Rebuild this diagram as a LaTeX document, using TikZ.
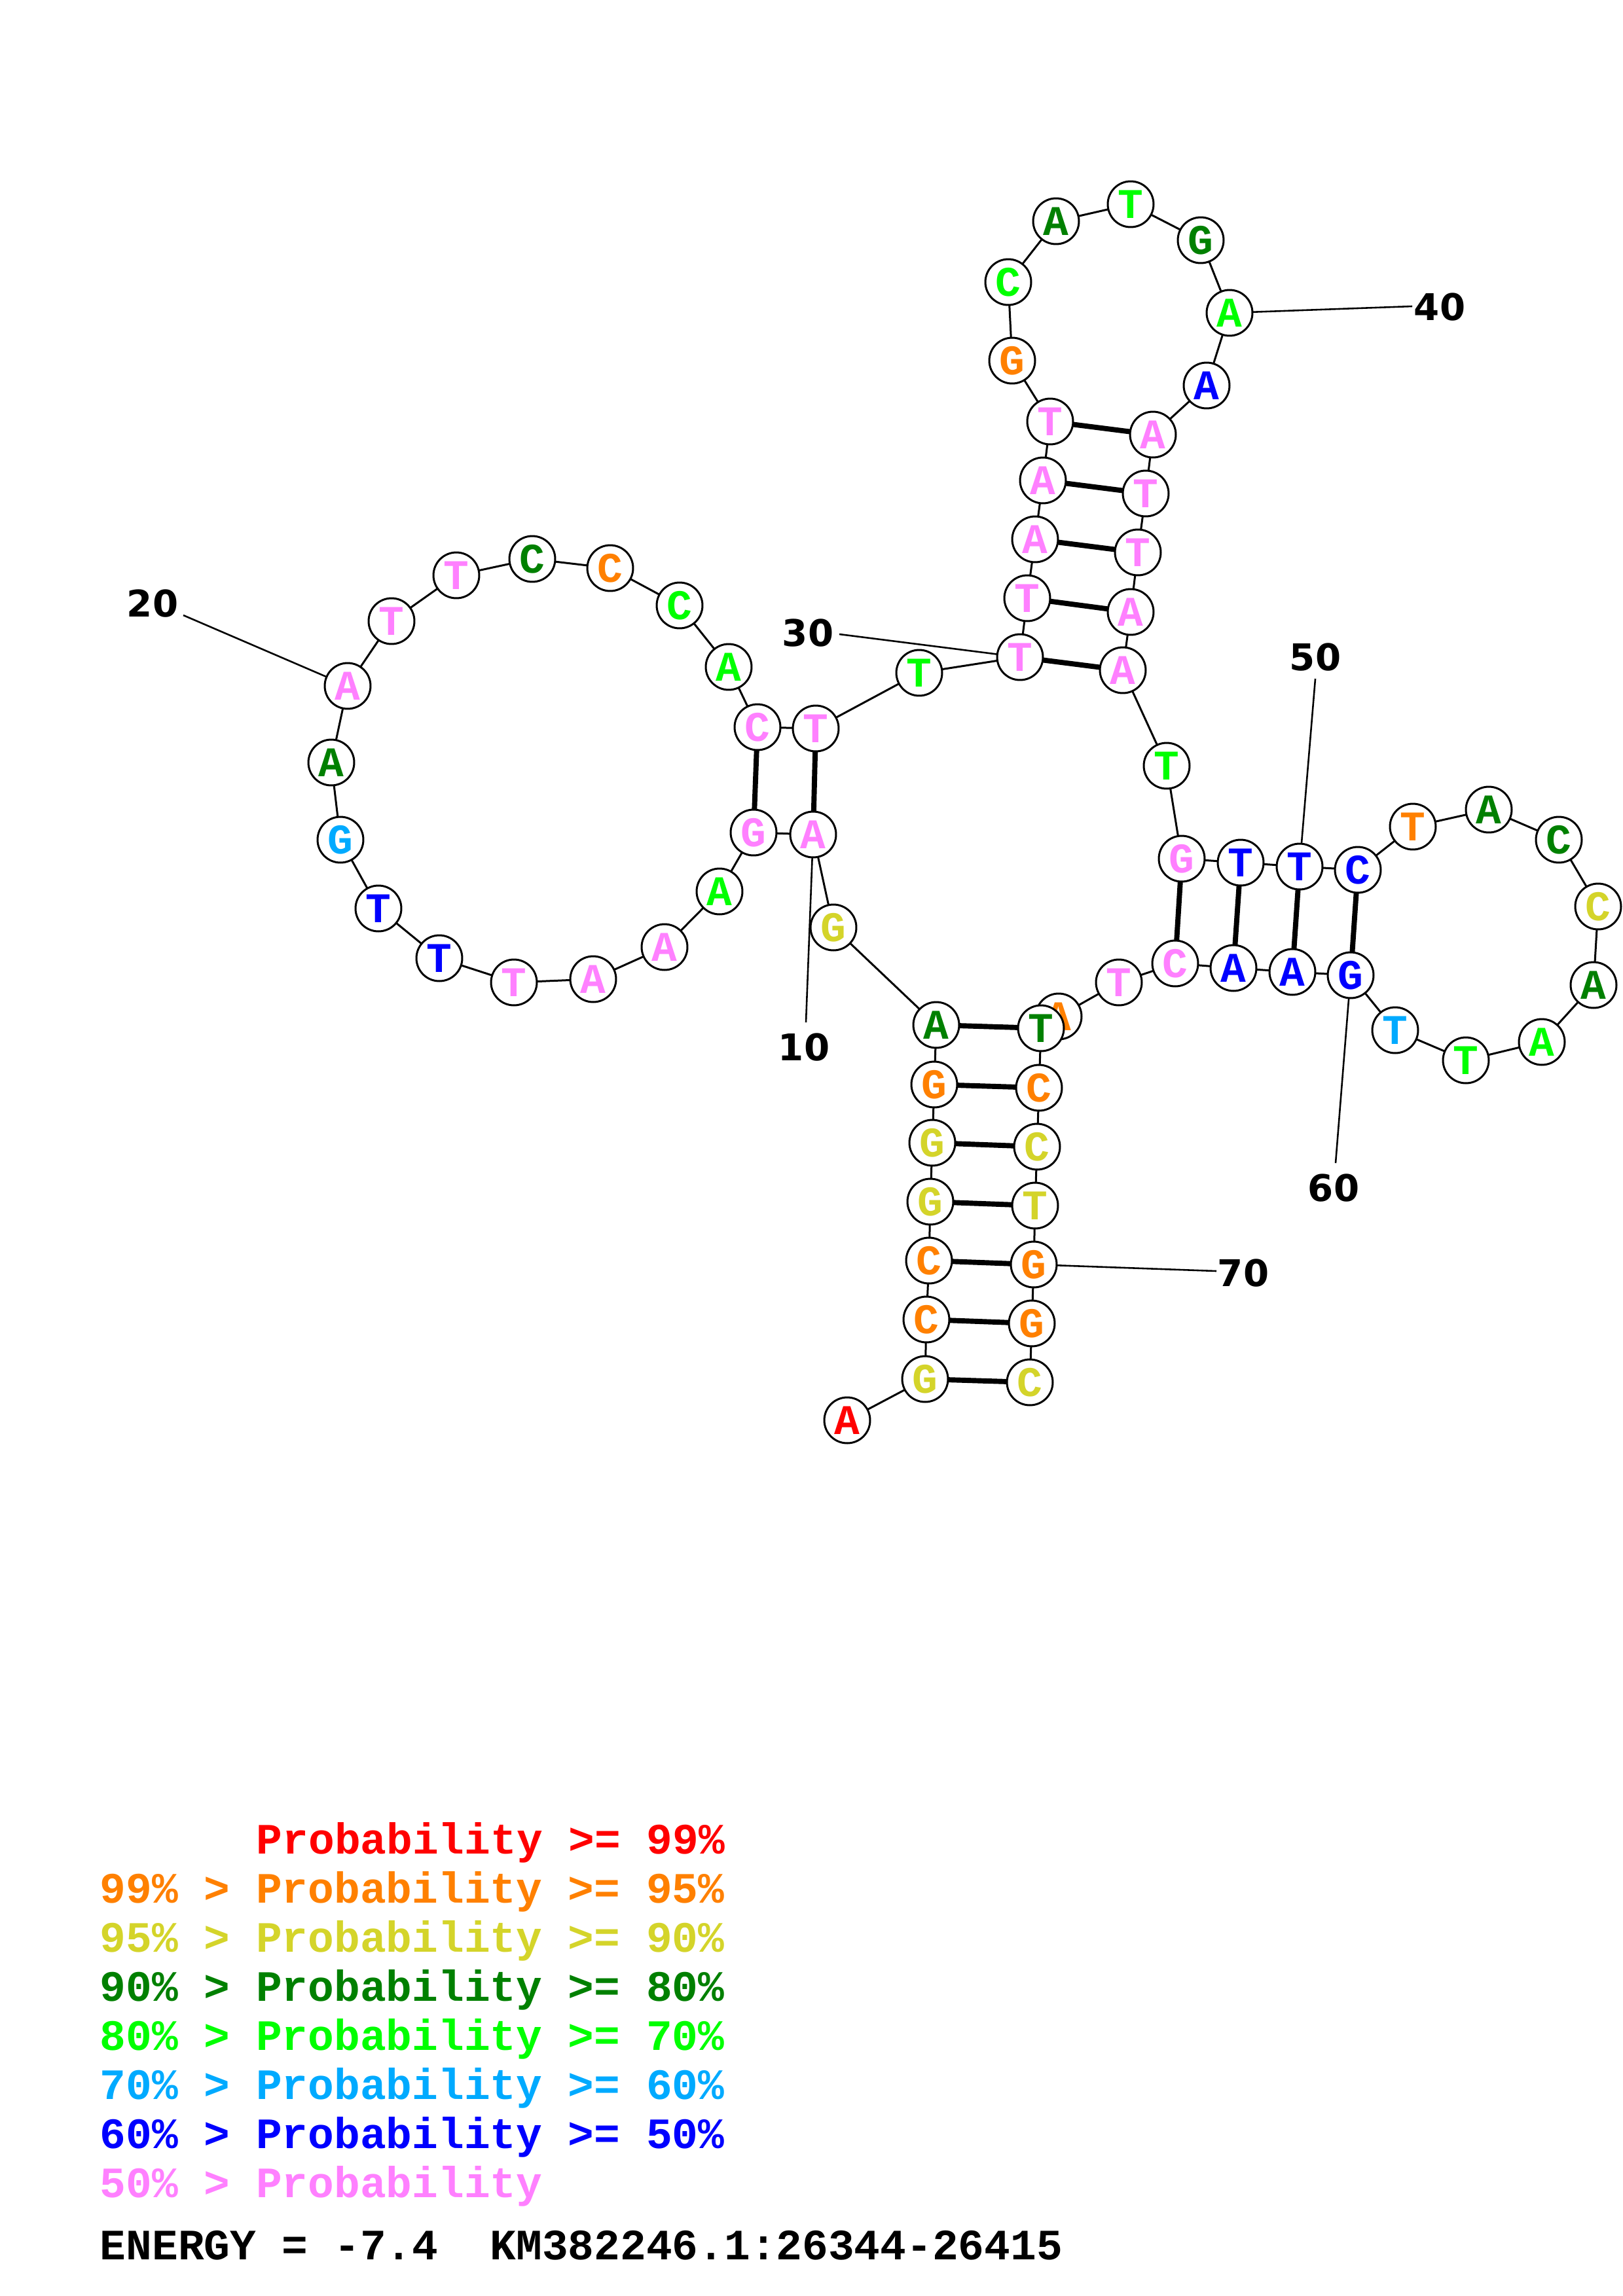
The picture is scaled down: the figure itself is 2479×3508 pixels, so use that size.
\documentclass[tikz,border=0pt]{standalone}
\usepackage{fontspec}
\setmonofont{Liberation Mono}
\newfontfamily\numfont{DejaVu Sans}
\usepackage{xcolor}
\usetikzlibrary{backgrounds}

\definecolor{c99}{RGB}{255,0,0}
\definecolor{c95}{RGB}{255,128,0}
\definecolor{c90}{RGB}{212,212,42}
\definecolor{c80}{RGB}{0,128,0}
\definecolor{c70}{RGB}{0,255,0}
\definecolor{c60}{RGB}{0,170,255}
\definecolor{c50}{RGB}{0,0,255}
\definecolor{clow}{RGB}{255,128,255}

\begin{document}
\begin{tikzpicture}[x=0.240128pt,y=-0.240128pt,
  nt/.style={circle,draw=black,line width=0.72pt,fill=white,inner sep=0pt,
             minimum size=16.8pt,font=\ttfamily\bfseries\fontsize{15.5}{15.5}\selectfont},
  bb/.style={line width=0.72pt},
  bp/.style={line width=1.9pt},
  numline/.style={line width=0.62pt},
  num/.style={font=\numfont\bfseries\fontsize{13.5}{13.5}\selectfont},
  legline/.style={anchor=base west,inner sep=0pt,
                  font=\ttfamily\bfseries\fontsize{15.9}{15.9}\selectfont}]
  \useasboundingbox (0,0) rectangle (2479,3508);

  % bases, 5' to 3'
  \node[nt,text=c99]  (b1)  at (1294,2170) {A};
  \node[nt,text=c90]  (b2)  at (1413,2107) {G};
  \node[nt,text=c95]  (b3)  at (1415,2016) {C};
  \node[nt,text=c95]  (b4)  at (1419,1926) {C};
  \node[nt,text=c90]  (b5)  at (1421,1836) {G};
  \node[nt,text=c90]  (b6)  at (1424,1746) {G};
  \node[nt,text=c95]  (b7)  at (1427,1657) {G};
  \node[nt,text=c80]  (b8)  at (1430,1566) {A};
  \node[nt,text=c90]  (b9)  at (1273,1417) {G};
  \node[nt,text=clow] (b10) at (1242,1275) {A};
  \node[nt,text=clow] (b11) at (1151,1272) {G};
  \node[nt,text=c70]  (b12) at (1099,1362) {A};
  \node[nt,text=clow] (b13) at (1015,1447) {A};
  \node[nt,text=clow] (b14) at (906,1496) {A};
  \node[nt,text=clow] (b15) at (785,1501) {T};
  \node[nt,text=c50]  (b16) at (671,1464) {T};
  \node[nt,text=c50]  (b17) at (578,1388) {T};
  \node[nt,text=c60]  (b18) at (520,1283) {G};
  \node[nt,text=c80]  (b19) at (506,1165) {A};
  \node[nt,text=clow] (b20) at (531,1048) {A};
  \node[nt,text=clow] (b21) at (598,949) {T};
  \node[nt,text=clow] (b22) at (697,879) {T};
  \node[nt,text=c80]  (b23) at (813,854) {C};
  \node[nt,text=c95]  (b24) at (932,868) {C};
  \node[nt,text=c70]  (b25) at (1038,925) {C};
  \node[nt,text=c70]  (b26) at (1113,1019) {A};
  \node[nt,text=clow] (b27) at (1157,1111) {C};
  \node[nt,text=clow] (b28) at (1246,1113) {T};
  \node[nt,text=c70]  (b29) at (1404,1028) {T};
  \node[nt,text=clow] (b30) at (1558,1004) {T};
  \node[nt,text=clow] (b31) at (1569,914) {T};
  \node[nt,text=clow] (b32) at (1581,824) {A};
  \node[nt,text=clow] (b33) at (1593,734) {A};
  \node[nt,text=clow] (b34) at (1604,644) {T};
  \node[nt,text=c95]  (b35) at (1546,551) {G};
  \node[nt,text=c70]  (b36) at (1540,431) {C};
  \node[nt,text=c80]  (b37) at (1613,338) {A};
  \node[nt,text=c70]  (b38) at (1727,312) {T};
  \node[nt,text=c80]  (b39) at (1834,367) {G};
  \node[nt,text=c70]  (b40) at (1878,478) {A};
  \node[nt,text=c50]  (b41) at (1843,589) {A};
  \node[nt,text=clow] (b42) at (1761,664) {A};
  \node[nt,text=clow] (b43) at (1750,754) {T};
  \node[nt,text=clow] (b44) at (1738,844) {T};
  \node[nt,text=clow] (b45) at (1727,935) {A};
  \node[nt,text=clow] (b46) at (1715,1024) {A};
  \node[nt,text=c70]  (b47) at (1782,1170) {T};
  \node[nt,text=clow] (b48) at (1805,1312) {G};
  \node[nt,text=c50]  (b49) at (1895,1318) {T};
  \node[nt,text=c50]  (b50) at (1985,1324) {T};
  \node[nt,text=c50]  (b51) at (2074,1329) {C};
  \node[nt,text=c95]  (b52) at (2158,1263) {T};
  \node[nt,text=c80]  (b53) at (2274,1237) {A};
  \node[nt,text=c80]  (b54) at (2381,1283) {C};
  \node[nt,text=c90]  (b55) at (2441,1385) {C};
  \node[nt,text=c80]  (b56) at (2434,1505) {A};
  \node[nt,text=c70]  (b57) at (2355,1592) {A};
  \node[nt,text=c70]  (b58) at (2239,1620) {T};
  \node[nt,text=c60]  (b59) at (2131,1574) {T};
  \node[nt,text=c50]  (b60) at (2063,1490) {G};
  \node[nt,text=c50]  (b61) at (1974,1485) {A};
  \node[nt,text=c50]  (b62) at (1884,1479) {A};
  \node[nt,text=clow] (b63) at (1795,1472) {C};
  \node[nt,text=clow] (b64) at (1709,1501) {T};
  \node[nt,text=c95]  (b65) at (1617,1553) {A};
  \node[nt,text=c80]  (b66) at (1590,1571) {T};
  \node[nt,text=c95]  (b67) at (1587,1662) {C};
  \node[nt,text=c90]  (b68) at (1584,1752) {C};
  \node[nt,text=c90]  (b69) at (1581,1842) {T};
  \node[nt,text=c95]  (b70) at (1579,1932) {G};
  \node[nt,text=c95]  (b71) at (1576,2022) {G};
  \node[nt,text=c90]  (b72) at (1573,2112) {C};

  % position numbers
  \node[num] (l10) at (1228,1600) {10};
  \node[num] (l20) at (233,922)   {20};
  \node[num] (l30) at (1234,967)  {30};
  \node[num] (l40) at (2199,469)  {40};
  \node[num] (l50) at (2009,1004) {50};
  \node[num] (l60) at (2037,1815) {60};
  \node[num] (l70) at (1899,1945) {70};
  \coordinate (t10) at (1231,1562);
  \coordinate (t20) at (280,940);
  \coordinate (t30) at (1282,969);
  \coordinate (t40) at (2157,468);
  \coordinate (t50) at (2009,1037);
  \coordinate (t60) at (2040,1777);
  \coordinate (t70) at (1858,1942);

  \begin{scope}[on background layer]
    \draw[bb] (b1.center) -- (b2.center) -- (b3.center) -- (b4.center) -- (b5.center)
      -- (b6.center) -- (b7.center) -- (b8.center) -- (b9.center) -- (b10.center)
      -- (b11.center) -- (b12.center) -- (b13.center) -- (b14.center) -- (b15.center)
      -- (b16.center) -- (b17.center) -- (b18.center) -- (b19.center) -- (b20.center)
      -- (b21.center) -- (b22.center) -- (b23.center) -- (b24.center) -- (b25.center)
      -- (b26.center) -- (b27.center) -- (b28.center) -- (b29.center) -- (b30.center)
      -- (b31.center) -- (b32.center) -- (b33.center) -- (b34.center) -- (b35.center)
      -- (b36.center) -- (b37.center) -- (b38.center) -- (b39.center) -- (b40.center)
      -- (b41.center) -- (b42.center) -- (b43.center) -- (b44.center) -- (b45.center)
      -- (b46.center) -- (b47.center) -- (b48.center) -- (b49.center) -- (b50.center)
      -- (b51.center) -- (b52.center) -- (b53.center) -- (b54.center) -- (b55.center)
      -- (b56.center) -- (b57.center) -- (b58.center) -- (b59.center) -- (b60.center)
      -- (b61.center) -- (b62.center) -- (b63.center) -- (b64.center) -- (b65.center)
      -- (b66.center) -- (b67.center) -- (b68.center) -- (b69.center) -- (b70.center)
      -- (b71.center) -- (b72.center);
    % pairs
    \draw[bp] (b2.center) -- (b72.center);
    \draw[bp] (b3.center) -- (b71.center);
    \draw[bp] (b4.center) -- (b70.center);
    \draw[bp] (b5.center) -- (b69.center);
    \draw[bp] (b6.center) -- (b68.center);
    \draw[bp] (b7.center) -- (b67.center);
    \draw[bp] (b8.center) -- (b66.center);
    \draw[bp] (b10.center) -- (b28.center);
    \draw[bp] (b11.center) -- (b27.center);
    \draw[bp] (b30.center) -- (b46.center);
    \draw[bp] (b31.center) -- (b45.center);
    \draw[bp] (b32.center) -- (b44.center);
    \draw[bp] (b33.center) -- (b43.center);
    \draw[bp] (b34.center) -- (b42.center);
    \draw[bp] (b48.center) -- (b63.center);
    \draw[bp] (b49.center) -- (b62.center);
    \draw[bp] (b50.center) -- (b61.center);
    \draw[bp] (b51.center) -- (b60.center);
    % number ticks
    \draw[numline] (t10) -- (b10.center);
    \draw[numline] (t20) -- (b20.center);
    \draw[numline] (t30) -- (b30.center);
    \draw[numline] (t40) -- (b40.center);
    \draw[numline] (t50) -- (b50.center);
    \draw[numline] (t60) -- (b60.center);
    \draw[numline] (t70) -- (b70.center);
  \end{scope}

  % legend
  \node[legline,text=c99]  (k99) at (391,2832) {Probability >= 99\%};
  \node[legline,text=c95]  (k95) at (152,2907) {99\% > Probability >= 95\%};
  \node[legline,text=c90]  (k90) at (152,2982) {95\% > Probability >= 90\%};
  \node[legline,text=c80]  (k80) at (152,3057) {90\% > Probability >= 80\%};
  \node[legline,text=c70]  (k70) at (152,3132) {80\% > Probability >= 70\%};
  \node[legline,text=c60]  (k60) at (152,3207) {70\% > Probability >= 60\%};
  \node[legline,text=c50]  (k50) at (152,3282) {60\% > Probability >= 50\%};
  \node[legline,text=clow] (klo) at (152,3357) {50\% > Probability};
  \node[legline] (energy) at (152,3452) {ENERGY = -7.4\ \ KM382246.1:26344-26415};
\end{tikzpicture}
\end{document}
